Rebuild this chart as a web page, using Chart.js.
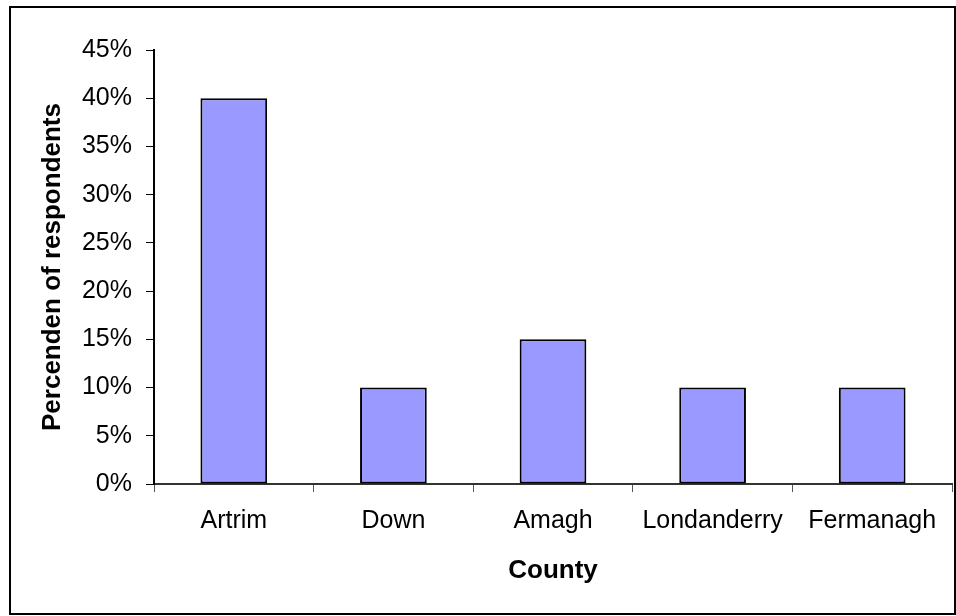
<!DOCTYPE html>
<html>
<head>
<meta charset="utf-8">
<script src="https://cdn.jsdelivr.net/npm/chart.js@4"></script>
<style>
  html, body { margin: 0; padding: 0; background: #fff; }
  #wrap { width: 956px; height: 616px; position: relative; }
</style>
</head>
<body>
<div id="wrap"><canvas id="c" width="956" height="616"></canvas></div>
<script>
const categories = ["Artrim", "Down", "Amagh", "Londanderry", "Fermanagh"];
const percentValues = [0.40, 0.10, 0.15, 0.10, 0.10];
const yTickMax = 0.45;
const yTickStep = 0.05;
const xAxisTitle = "County";
const yAxisTitle = "Percenden of respondents";

const FONT = "'Liberation Sans', Arial, sans-serif";

const frame = {
  id: 'frame',
  beforeDraw(chart) {
    const ctx = chart.ctx;
    ctx.save();
    ctx.fillStyle = '#fff';
    ctx.fillRect(0, 0, chart.width, chart.height);
    ctx.strokeStyle = '#000';
    ctx.lineWidth = 2;
    ctx.strokeRect(10, 7, 945, 607);
    ctx.restore();
  }
};

new Chart(document.getElementById('c'), {
  type: 'bar',
  data: {
    labels: categories,
    datasets: [{
      data: percentValues,
      backgroundColor: '#9999FF',
      borderColor: '#000',
      borderWidth: 2,
      borderSkipped: false,
      barPercentage: 0.418,
      categoryPercentage: 1.0
    }]
  },
  plugins: [frame],
  options: {
    responsive: false,
    animation: false,
    events: [],
    layout: { padding: { left: 0, right: 4, top: 50, bottom: 0 } },
    plugins: { legend: { display: false }, tooltip: { enabled: false } },
    scales: {
      x: {
        offset: true,
        afterFit(s) { s.height = 132; },
        grid: { display: true, drawOnChartArea: false, drawTicks: true, tickLength: 8, color: '#555', lineWidth: 1, offset: true },
        border: { display: true, color: '#333', width: 2 },
        ticks: { color: '#000', font: { family: FONT, size: 25 }, padding: 14, maxRotation: 0, autoSkip: false },
        title: { display: true, text: xAxisTitle, color: '#000', font: { family: FONT, size: 26, weight: 'bold' }, padding: { top: 0, bottom: 30 } }
      },
      y: {
        min: 0,
        max: yTickMax,
        afterFit(s) { s.width = 154; },
        grid: { display: true, drawOnChartArea: false, drawTicks: true, tickLength: 8, color: '#000', lineWidth: 1 },
        border: { display: true, color: '#000', width: 2 },
        ticks: {
          stepSize: yTickStep,
          color: '#000',
          padding: 14,
          font: { family: FONT, size: 25 },
          callback: v => Math.round(v * 100) + '%'
        },
        title: { display: true, text: yAxisTitle, color: '#000', font: { family: FONT, size: 26, weight: 'bold' }, padding: { top: 37, bottom: 0 } }
      }
    }
  }
});
</script>
</body>
</html>
